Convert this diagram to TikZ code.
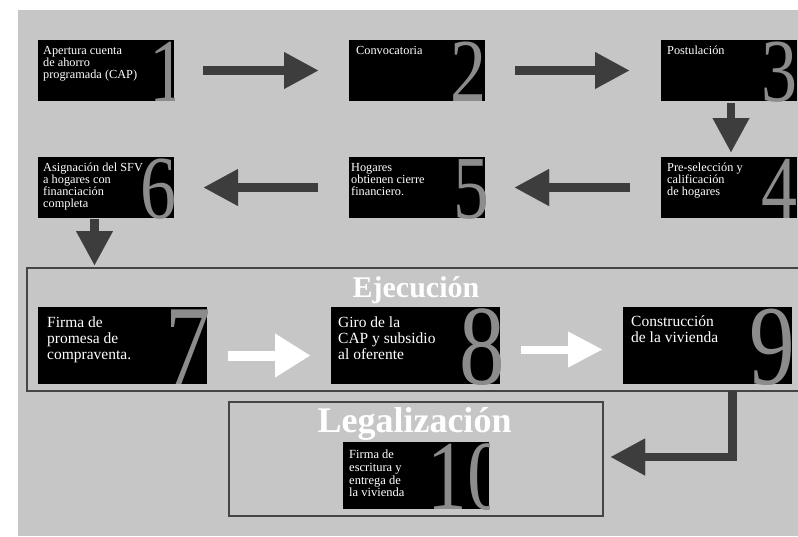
\documentclass[tikz,border=0pt]{standalone}
\usepackage{fontspec}
\setmainfont{Liberation Serif}
\usetikzlibrary{arrows.meta,calc}
\definecolor{bggray}{HTML}{C6C6C6}
\definecolor{numgray}{HTML}{8C8C8C}
\definecolor{arrowgray}{HTML}{3D3D3D}
\definecolor{framegray}{HTML}{454545}
\newcommand{\bignum}[1]{\scalebox{0.8}[1]{#1}}
\begin{document}
\begin{tikzpicture}[x=1pt,y=-1pt,
  stepbox/.style={fill=black, inner sep=0pt, outer sep=0pt, anchor=north west},
  smallbox/.style={stepbox, minimum width=136pt, minimum height=61pt},
  bigbox/.style={stepbox, minimum width=169pt, minimum height=77pt},
  lastbox/.style={stepbox, minimum width=146pt, minimum height=67pt},
  txtsmall/.style={text=white, anchor=north west, align=left, inner sep=0pt, font=\fontsize{12.3}{11.9}\selectfont},
  txtbig/.style={text=white, anchor=north west, align=left, inner sep=0pt, font=\fontsize{15.5}{15.6}\selectfont},
  txtlast/.style={text=white, anchor=north west, align=left, inner sep=0pt, font=\fontsize{12.5}{12.7}\selectfont},
  numsmall/.style={text=numgray, anchor=base east, inner sep=0pt, font=\fontsize{90}{90}\selectfont},
  numbig/.style={text=numgray, anchor=base east, inner sep=0pt, font=\fontsize{114}{114}\selectfont},
  numlast/.style={text=numgray, anchor=base east, inner sep=0pt, font=\fontsize{99}{99}\selectfont},
  frame/.style={draw=framegray, line width=2.5pt, inner sep=0pt, outer sep=0pt, anchor=north west},
  titletxt/.style={text=white, anchor=base, inner sep=0pt},
  darrow/.style={draw=arrowgray, line width=8.5pt, line join=miter,
    -{Triangle[length=34pt,width=37pt,line width=0.01pt]}},
  warrowa/.style={draw=white, line width=10pt,
    -{Triangle[length=35pt,width=44pt,line width=0.01pt]}},
  warrowb/.style={draw=white, line width=8pt,
    -{Triangle[length=34pt,width=36pt,line width=0.01pt]}}
]
\useasboundingbox (0,0) rectangle (798,536);
\fill[bggray] (18,10) rectangle (798,536);

% frames
\node[frame, minimum width=773pt, minimum height=123pt] (exec) at (27,268) {};
\node[frame, minimum width=374pt, minimum height=114pt] (legal) at (229,402) {};
\node[titletxt, font=\fontsize{30}{30}\selectfont\bfseries] (exectitle) at (416,297) {Ejecución};
\node[titletxt, font=\fontsize{36}{36}\selectfont\bfseries] (legaltitle) at (414.5,432) {Legalización};

% boxes
\node[smallbox] (b1) at (38,40) {};
\node[smallbox] (b2) at (349,40) {};
\node[smallbox] (b3) at (661,40) {};
\node[smallbox] (b6) at (38,157) {};
\node[smallbox] (b5) at (349,157) {};
\node[smallbox] (b4) at (661,157) {};
\node[bigbox] (b7) at (38,307) {};
\node[bigbox] (b8) at (331,307) {};
\node[bigbox] (b9) at (623,307) {};
\node[lastbox] (b10) at (343,442) {};

% numbers (clipped to boxes)
\begin{scope}\clip (b1.south west) rectangle (b1.north east);
\node[numsmall] (n1) at ($(b1.south east)+(12,0)$) {\bignum{1}};\end{scope}
\begin{scope}\clip (b2.south west) rectangle (b2.north east);
\node[numsmall] (n2) at ($(b2.south east)+(2,0)$) {\bignum{2}};\end{scope}
\begin{scope}\clip (b3.south west) rectangle (b3.north east);
\node[numsmall] (n3) at ($(b3.south east)+(1,0)$) {\bignum{3}};\end{scope}
\begin{scope}\clip (b4.south west) rectangle (b4.north east);
\node[numsmall] (n4) at ($(b4.south east)+(0.5,0)$) {\bignum{4}};\end{scope}
\begin{scope}\clip (b5.south west) rectangle (b5.north east);
\node[numsmall] (n5) at ($(b5.south east)+(4.5,0)$) {\bignum{5}};\end{scope}
\begin{scope}\clip (b6.south west) rectangle (b6.north east);
\node[numsmall] (n6) at ($(b6.south east)+(2.5,0)$) {\bignum{6}};\end{scope}
\begin{scope}\clip (b7.south west) rectangle (b7.north east);
\node[numbig] (n7) at ($(b7.south east)+(4.5,0)$) {\bignum{7}};\end{scope}
\begin{scope}\clip (b8.south west) rectangle (b8.north east);
\node[numbig] (n8) at ($(b8.south east)+(5,0)$) {\bignum{8}};\end{scope}
\begin{scope}\clip (b9.south west) rectangle (b9.north east);
\node[numbig] (n9) at ($(b9.south east)+(3,0)$) {\bignum{9}};\end{scope}
\begin{scope}\clip (b10.south west) rectangle (b10.north east);
\node[numlast] (n10) at ($(b10.south east)+(18,0)$) {\bignum{10}};\end{scope}

% texts
\node[txtsmall] (t1) at ($(b1.north west)+(5,6)$) {Apertura cuenta\\de ahorro\\programada (CAP)};
\node[txtsmall] (t2) at ($(b2.north west)+(7,6)$) {Convocatoria};
\node[txtsmall] (t3) at ($(b3.north west)+(6,6)$) {Postulación};
\node[txtsmall] (t4) at ($(b4.north west)+(6,6)$) {Pre-selección y\\calificación\\de hogares};
\node[txtsmall] (t5) at ($(b5.north west)+(2,6)$) {Hogares\\obtienen cierre\\financiero.};
\node[txtsmall] (t6) at ($(b6.north west)+(5,6)$) {Asignación del SFV\\a hogares con\\financiación\\completa};
\node[txtbig] (t7) at ($(b7.north west)+(9,10)$) {Firma de\\promesa de\\compraventa.};
\node[txtbig] (t8) at ($(b8.north west)+(7,10)$) {Giro de la\\CAP y subsidio\\al oferente};
\node[txtbig] (t9) at ($(b9.north west)+(8,9)$) {Construcción\\de la vivienda};
\node[txtlast] (t10) at ($(b10.north west)+(6,8)$) {Firma de\\escritura y\\entrega de\\la vivienda};

% connectors
\draw[darrow] ($(b1.east)+(29,0)$) -- ($(b2.west)+(-31,0)$);
\draw[darrow] ($(b2.east)+(30,0)$) -- ($(b3.west)+(-32,0)$);
\draw[darrow] ($(b3.south)+(2,2)$) -- ($(b4.north)+(2,-5)$);
\draw[darrow] ($(b4.west)+(-31,0)$) -- ($(b5.east)+(30,0)$);
\draw[darrow] ($(b5.west)+(-31,0)$) -- ($(b6.east)+(30,0)$);
\draw[darrow] ($(b6.south)+(-11.5,1)$) -- ($(b6.south |- exec.north)+(-11.5,-3)$);
\draw[warrowa] ($(b7.east)+(21,10)$) -- ($(b8.west)+(-21,10)$);
\draw[warrowb] ($(b8.east)+(21,4)$) -- ($(b9.west)+(-21,4)$);
\draw[darrow] ($(b9.south |- exec.south)+(25,0)$) |- ($(legal.east)+(8,-2)$);
\end{tikzpicture}
\end{document}
